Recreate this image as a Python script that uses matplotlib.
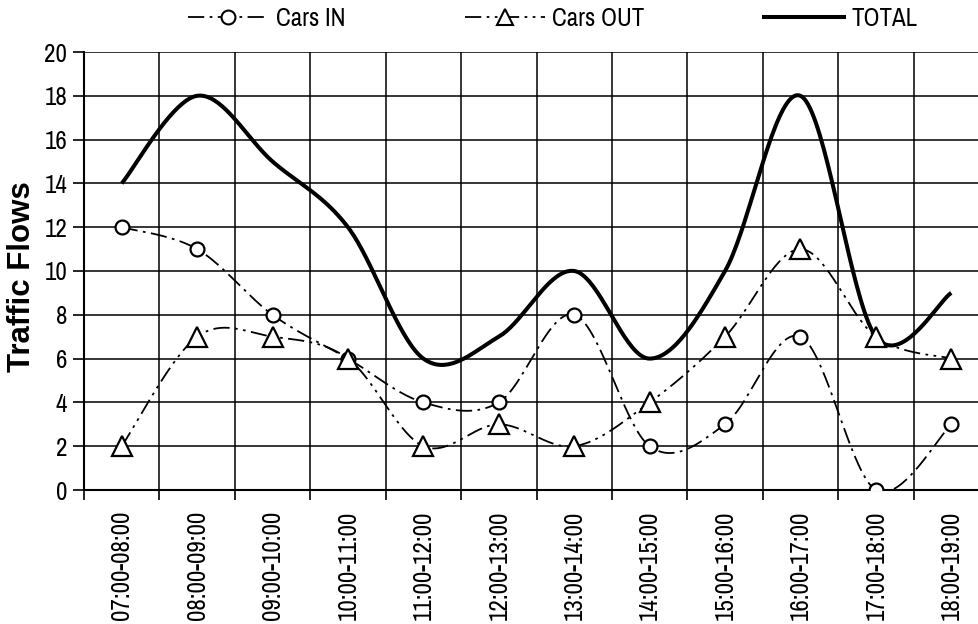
import numpy as np
import matplotlib
matplotlib.use("Agg")
import matplotlib.pyplot as plt
from matplotlib.lines import Line2D

categories = ["07:00-08:00", "08:00-09:00", "09:00-10:00", "10:00-11:00",
              "11:00-12:00", "12:00-13:00", "13:00-14:00", "14:00-15:00",
              "15:00-16:00", "16:00-17:00", "17:00-18:00", "18:00-19:00"]
cars_in = [12, 11, 8, 6, 4, 4, 8, 2, 3, 7, 0, 3]
cars_out = [2, 7, 7, 6, 2, 3, 2, 4, 7, 11, 7, 6]
total = [14, 18, 15, 12, 6, 7, 10, 6, 10, 18, 7, 9]

NARROW = ['Archivo Narrow', 'Roboto Condensed', 'Liberation Sans', 'DejaVu Sans']
BOLD = ['Liberation Sans', 'DejaVu Sans']


def excel_smooth(xs, ys, n=40):
    """Excel-style smoothed line through the points (Bezier, Catmull-Rom tangents)."""
    P = np.column_stack([xs, ys]).astype(float)
    m = len(P)
    out = []
    t = np.linspace(0, 1, n)[:, None]
    for i in range(m - 1):
        p0 = P[max(i - 1, 0)]
        p1 = P[i]
        p2 = P[i + 1]
        p3 = P[min(i + 2, m - 1)]
        c1 = p1 + (p2 - p0) / 6.0
        c2 = p2 - (p3 - p1) / 6.0
        seg = ((1 - t) ** 3) * p1 + 3 * ((1 - t) ** 2) * t * c1 + 3 * (1 - t) * t ** 2 * c2 + t ** 3 * p2
        if i > 0:
            seg = seg[1:]
        out.append(seg)
    out = np.vstack(out)
    return out[:, 0], out[:, 1]


W, H = 979, 624
fig = plt.figure(figsize=(W / 100, H / 100), dpi=100)
left, right, top, bottom = 84, 989, 52, 490
ax = fig.add_axes([left / W, 1 - bottom / H, (right - left) / W, (bottom - top) / H])

x = np.arange(len(categories)) + 0.5

style_in = dict(color='black', lw=1.3, dashes=(9, 3, 1.5, 3))
style_out = dict(color='black', lw=1.3, dashes=(9, 3, 1.5, 3, 1.5, 3))

sx, sy = excel_smooth(x, cars_in)
ax.plot(sx, sy, **style_in, zorder=3)
ax.plot(x, cars_in, ls='none', marker='o', ms=10, mfc='white', mec='black', mew=1.6, zorder=5)

sx, sy = excel_smooth(x, cars_out)
ax.plot(sx, sy, **style_out, zorder=3)
ax.plot(x, cars_out, ls='none', marker='^', ms=14, mfc='white', mec='black', mew=1.6, zorder=5)

sx, sy = excel_smooth(x, total)
ax.plot(sx, sy, color='black', lw=2.9, solid_capstyle='butt', zorder=4)

ax.set_xlim(0, 12)
ax.set_ylim(0, 20)
ax.set_yticks(np.arange(0, 21, 2))
ax.set_xticks(np.arange(0, 13))
ax.set_xticklabels([])
ax.set_xticks(x, minor=True)
ax.set_xticklabels(categories, minor=True, rotation=90, fontsize=21, family=NARROW)
ax.tick_params(axis='x', which='minor', length=0, pad=15)
ax.tick_params(axis='x', which='major', length=7, width=1.2, direction='out')
ax.tick_params(axis='y', length=8, width=1.2, direction='out', pad=4)
for lab in ax.get_yticklabels():
    lab.set_fontsize(18)
    lab.set_family(NARROW)

ax.grid(True, which='major', color='black', lw=1.1)
ax.set_axisbelow(True)
for s in ['top', 'right']:
    ax.spines[s].set_visible(False)
for s in ['left', 'bottom']:
    ax.spines[s].set_linewidth(1.5)

ax.set_ylabel('Traffic Flows', fontsize=22.5, fontweight='bold', family=BOLD)
ax.yaxis.set_label_coords((37 - left) / (right - left), (bottom - 277) / (bottom - top))

handles = [
    Line2D([], [], **style_in, marker='o', ms=10, mfc='white', mec='black', mew=1.5),
    Line2D([], [], **style_out, marker='^', ms=12, mfc='white', mec='black', mew=1.5),
    Line2D([], [], color='black', lw=2.9),
]
fig.legend(handles, ['Cars IN', 'Cars OUT', 'TOTAL'], ncol=3, frameon=False,
           loc='lower left', bbox_to_anchor=(178 / W, 1 - 40 / H, (928 - 178) / W, 0.05),
           mode='expand', handlelength=3.2, handletextpad=0.3,
           prop={'family': NARROW, 'size': 18}, borderaxespad=0)

# shrink the category labels just enough that they stay inside the picture
renderer = fig.canvas.get_renderer()
fs = 21.0
for _ in range(30):
    labs = ax.get_xticklabels(minor=True)
    lowest = min(l.get_window_extent(renderer).y0 for l in labs)
    if lowest >= 2:
        break
    fs -= 0.5
    for l in labs:
        l.set_fontsize(fs)

fig.savefig('out.png', dpi=100)
